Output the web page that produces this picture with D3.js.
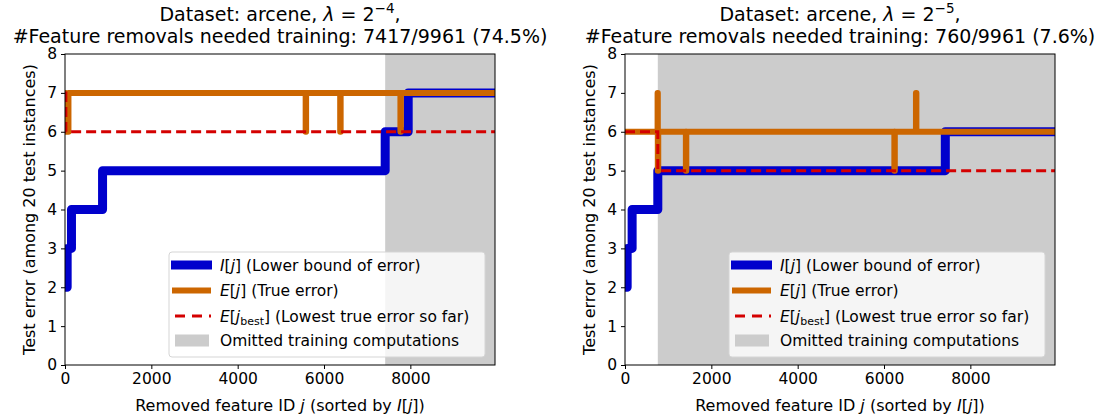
<!DOCTYPE html>
<html>
<head>
    <meta charset="utf-8">
    <title>Feature removal</title>
    <script type="text/javascript" src="https://cdn.jsdelivr.net/npm/d3@7"></script>
    <style>
        body { margin: 0; background: #fff; }
        text { font-family: "DejaVu Sans", sans-serif; fill: #000; }
    </style>
</head>

<body>

<script type="text/javascript">
    // data (step-post series: value holds from j until next j)
    var nFeatures = 9961;
    var xTicks = [0, 2000, 4000, 6000, 8000];
    var yTicks = [0, 1, 2, 3, 4, 5, 6, 7, 8];

    var leftLowerJ = [0, 50, 150, 870, 7417, 7950, 9961];
    var leftLowerV = [2, 3, 4, 5, 6, 7, 7];
    var leftTrueJ = [0, 20, 80, 5575, 5585, 6375, 6385, 7770, 7780, 9961];
    var leftTrueV = [7, 6, 7, 6, 7, 6, 7, 6, 7, 7];
    var leftBestJ = [0, 20, 9961];
    var leftBestV = [7, 6, 6];
    var leftOmitted = 7417;

    var rightLowerJ = [0, 50, 165, 760, 7420, 9961];
    var rightLowerV = [2, 3, 4, 5, 6, 6];
    var rightTrueJ = [0, 755, 760, 770, 1410, 1420, 6240, 6250, 6740, 6750, 9961];
    var rightTrueV = [6, 7, 5, 6, 5, 6, 5, 6, 7, 6, 6];
    var rightBestJ = [0, 760, 9961];
    var rightBestV = [6, 5, 5];
    var rightOmitted = 760;

    var width = 1103,
            height = 417;

    var svg = d3.select("body").append("svg")
            .attr("width", width)
            .attr("height", height);

    function zip(js, vs) {
        return js.map(function (j, i) { return {j: j, v: vs[i]}; });
    }

    function drawPanel(id, left, lam, omitted, lowerJ, lowerV, trueJ, trueV, bestJ, bestV) {
        var x = d3.scaleLinear().domain([0, nFeatures]).range([left, left + 430]);
        var y = d3.scaleLinear().domain([0, 8]).range([365, 54]);
        var g = svg.append("g");

        svg.append("clipPath").attr("id", "clip" + id)
                .append("rect")
                .attr("x", x(0)).attr("y", y(8))
                .attr("width", x(nFeatures) - x(0)).attr("height", y(0) - y(8) + 6);

        // omitted region
        g.append("rect")
                .attr("x", x(omitted)).attr("y", y(8))
                .attr("width", x(nFeatures) - x(omitted))
                .attr("height", y(0) - y(8))
                .attr("fill", "#cccccc");

        var line = d3.line()
                .x(function (d) { return x(d.j); })
                .y(function (d) { return y(d.v); })
                .curve(d3.curveStepAfter);

        var plot = g.append("g").attr("clip-path", "url(#clip" + id + ")");
        plot.append("path").datum(zip(lowerJ, lowerV))
                .attr("d", line).attr("fill", "none")
                .attr("stroke", "#0000cc").attr("stroke-width", 9)
                .attr("stroke-linejoin", "round").attr("stroke-linecap", "round");
        plot.append("path").datum(zip(trueJ, trueV))
                .attr("d", line).attr("fill", "none")
                .attr("stroke", "#cc6600").attr("stroke-width", 6)
                .attr("stroke-linejoin", "round").attr("stroke-linecap", "round");
        plot.append("path").datum(zip(bestJ, bestV))
                .attr("d", line).attr("fill", "none")
                .attr("stroke", "#d40000").attr("stroke-width", 3)
                .attr("stroke-dasharray", "10,5");

        // frame
        g.append("rect")
                .attr("x", x(0)).attr("y", y(8))
                .attr("width", x(nFeatures) - x(0)).attr("height", y(0) - y(8))
                .attr("fill", "none").attr("stroke", "#000").attr("stroke-width", 1);

        var xAxis = g.append("g")
                .attr("transform", "translate(0," + y(0) + ")")
                .call(d3.axisBottom(x).tickValues(xTicks).tickSize(4).tickPadding(4).tickFormat(d3.format("d")));
        var yAxis = g.append("g")
                .attr("transform", "translate(" + x(0) + ",0)")
                .call(d3.axisLeft(y).tickValues(yTicks).tickSize(4).tickPadding(4));
        [xAxis, yAxis].forEach(function (a) {
            a.select(".domain").remove();
            a.selectAll("text").style("font-size", "15.5px").style("font-family", "DejaVu Sans").attr("fill", "#000");
        });

        var cx = (x(0) + x(nFeatures)) / 2;

        // title
        var t1 = g.append("text").attr("x", cx).attr("y", 21)
                .attr("text-anchor", "middle").style("font-size", "19px");
        t1.append("tspan").text("Dataset: arcene, ");
        t1.append("tspan").style("font-style", "italic").text("λ");
        t1.append("tspan").text(" = 2");
        t1.append("tspan").attr("dy", -8).style("font-size", "13.5px").text("−" + lam.exp);
        t1.append("tspan").attr("dy", 8).text(",");
        g.append("text").attr("x", cx).attr("y", 42.5)
                .attr("text-anchor", "middle").style("font-size", "19px")
                .text("#Feature removals needed training: " + omitted + "/" + nFeatures + " (" + lam.pct + ")");

        // axis labels
        var xl = g.append("text").attr("x", cx).attr("y", 411)
                .attr("text-anchor", "middle").style("font-size", "16px");
        xl.append("tspan").text("Removed feature ID ");
        xl.append("tspan").style("font-style", "italic").text("j");
        xl.append("tspan").text(" (sorted by ");
        xl.append("tspan").style("font-style", "italic").text("I");
        xl.append("tspan").text("[");
        xl.append("tspan").style("font-style", "italic").text("j");
        xl.append("tspan").text("])");

        g.append("text")
                .attr("transform", "translate(" + (left - 30) + "," + y(4) + ") rotate(-90)")
                .attr("text-anchor", "middle").style("font-size", "16px")
                .text("Test error (among 20 test instances)");

        // legend
        var lx = left + 104, ly = 252;
        g.append("rect").attr("x", lx).attr("y", ly).attr("width", 316).attr("height", 105)
                .attr("rx", 3).attr("fill", "#fff").attr("fill-opacity", 0.8)
                .attr("stroke", "#d5d5d5").attr("stroke-width", 1);
        var rows = [ly + 13, ly + 38.5, ly + 64, ly + 88.5];
        g.append("line").attr("x1", lx + 2).attr("x2", lx + 43).attr("y1", rows[0]).attr("y2", rows[0])
                .attr("stroke", "#0000cc").attr("stroke-width", 9);
        g.append("line").attr("x1", lx + 3).attr("x2", lx + 42).attr("y1", rows[1]).attr("y2", rows[1])
                .attr("stroke", "#cc6600").attr("stroke-width", 6);
        g.append("line").attr("x1", lx + 6).attr("x2", lx + 42).attr("y1", rows[2]).attr("y2", rows[2])
                .attr("stroke", "#d40000").attr("stroke-width", 3).attr("stroke-dasharray", "10,7");
        g.append("rect").attr("x", lx + 6).attr("y", rows[3] - 6).attr("width", 34).attr("height", 12)
                .attr("fill", "#cccccc");

        function legendText(row) {
            return g.append("text").attr("x", lx + 51).attr("y", row + 5.5).style("font-size", "15.5px");
        }
        var l1 = legendText(rows[0]);
        l1.append("tspan").style("font-style", "italic").text("I");
        l1.append("tspan").text("[");
        l1.append("tspan").style("font-style", "italic").text("j");
        l1.append("tspan").text("] (Lower bound of error)");
        var l2 = legendText(rows[1]);
        l2.append("tspan").style("font-style", "italic").text("E");
        l2.append("tspan").text("[");
        l2.append("tspan").style("font-style", "italic").text("j");
        l2.append("tspan").text("] (True error)");
        var l3 = legendText(rows[2]);
        l3.append("tspan").style("font-style", "italic").text("E");
        l3.append("tspan").text("[");
        l3.append("tspan").style("font-style", "italic").text("j");
        l3.append("tspan").attr("dy", 3).style("font-size", "11px").text("best");
        l3.append("tspan").attr("dy", -3).text("] (Lowest true error so far)");
        legendText(rows[3]).text("Omitted training computations");
    }

    drawPanel("L", 65, {exp: 4, pct: "74.5%"}, leftOmitted,
            leftLowerJ, leftLowerV, leftTrueJ, leftTrueV, leftBestJ, leftBestV);
    drawPanel("R", 625, {exp: 5, pct: "7.6%"}, rightOmitted,
            rightLowerJ, rightLowerV, rightTrueJ, rightTrueV, rightBestJ, rightBestV);
</script>

</body>

</html>
